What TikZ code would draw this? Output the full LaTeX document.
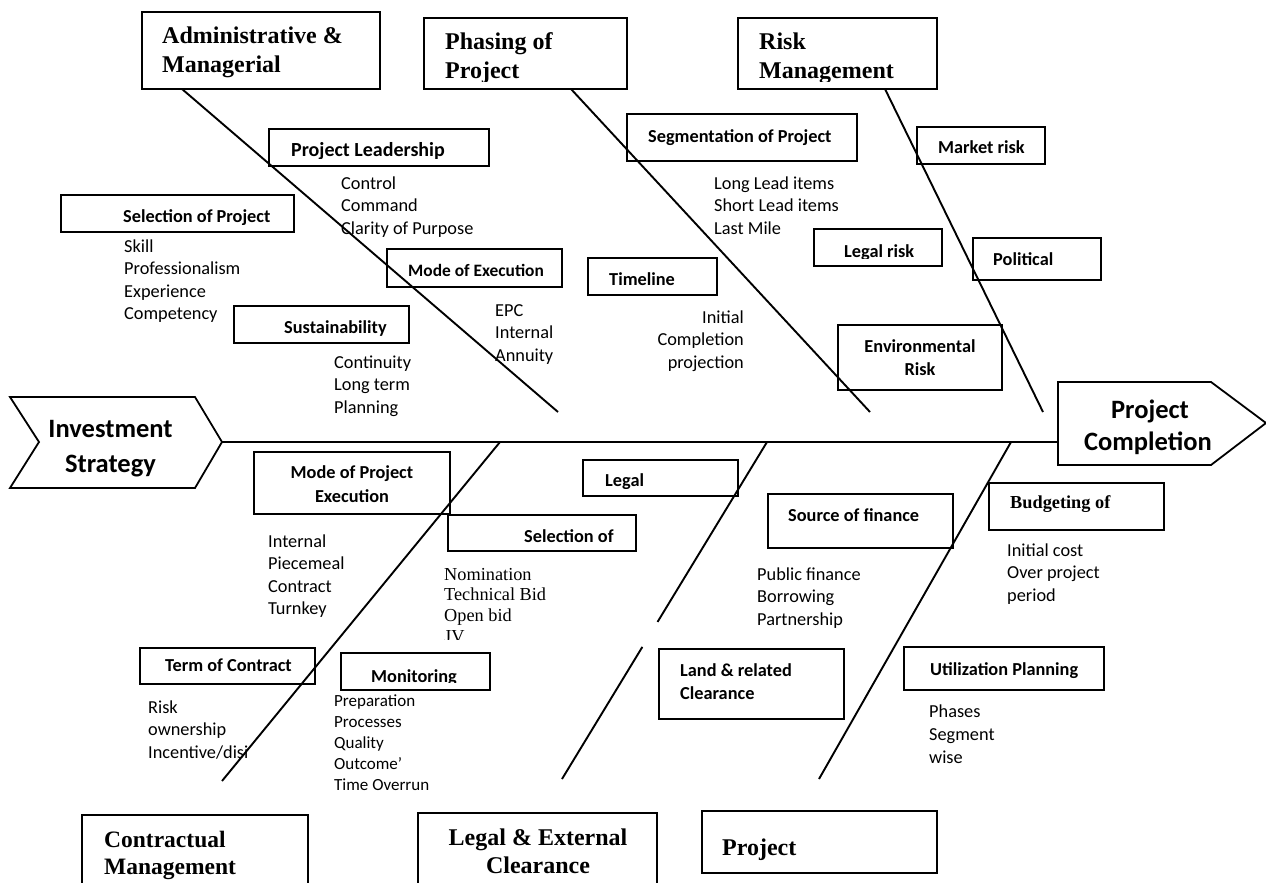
\documentclass[tikz,border=0pt]{standalone}
\usepackage{fontspec}
\newfontfamily\calibri{Carlito}
\newfontfamily\timesf{Liberation Serif}
\usetikzlibrary{fit,calc}
\tikzset{
 bx/.style={draw, line width=1.8pt, inner sep=0pt, outer sep=0pt},
 bone/.style={line width=1.9pt, line cap=butt},
 ttl/.style={font=\timesf\bfseries\fontsize{24}{28}\selectfont, inner sep=0pt, anchor=base west},
 lab/.style={font=\calibri\bfseries\fontsize{18.3}{22}\selectfont, inner sep=0pt, anchor=base west},
 itm/.style={font=\calibri\fontsize{18.3}{22}\selectfont, inner sep=0pt, anchor=base west},
 itms/.style={font=\calibri\fontsize{17}{21}\selectfont, inner sep=0pt, anchor=base west},
 tim/.style={font=\timesf\fontsize{18.3}{21}\selectfont, inner sep=0pt, anchor=base west},
 big/.style={font=\calibri\bfseries\fontsize{26.5}{32}\selectfont, inner sep=0pt, anchor=base},
}
% box with clipped text: name, x1, y1, x2, y2, text nodes
\newcommand\cbox[6]{%
  \node[bx, fit={(#2,#3) (#4,#5)}] (#1) {};
  \begin{scope}
    \clip (#1.north west) rectangle ([yshift=8pt]#1.south east);
    #6
  \end{scope}}
\begin{document}
\begin{tikzpicture}[x=1pt,y=-1pt,line join=miter]
\useasboundingbox (0,0) rectangle (1266,883);

% ---------- top main boxes ----------
\cbox{adm}{142}{12}{380}{89}{%
  \node[ttl] (admt1) at (162,44) {Administrative \&};
  \node[ttl] (admt2) at (162,72) {Managerial};}
\cbox{pha}{424}{18}{627}{89}{%
  \node[ttl] (phat1) at (445,50) {Phasing of};
  \node[ttl] (phat2) at (445,78) {Project};}
\cbox{rsk}{738}{18}{937}{89}{%
  \node[ttl] (rskt1) at (759,50) {Risk};
  \node[ttl] (rskt2) at (759,78) {Management};}

% ---------- top sub boxes ----------
\cbox{plead}{269}{129}{489}{166}{\node[lab,font=\calibri\bfseries\fontsize{20}{24}\selectfont] (pleadt) at (291,156) {Project Leadership};}
\cbox{selp}{61}{195}{294}{232}{\node[lab] (selpt) at (123,222) {Selection of Project};}
\cbox{modex}{387}{249}{562}{287}{\node[lab,font=\calibri\bfseries\fontsize{17.4}{21}\selectfont] (modext) at (408,276) {Mode of Execution};}
\cbox{sust}{234}{306}{409}{343}{\node[lab] (sustt) at (284,333) {Sustainability};}
\cbox{segm}{627}{114}{857}{161}{\node[lab] (segmt) at (648,142) {Segmentation of Project};}
\cbox{tml}{588}{258}{717}{295}{\node[lab] (tmlt) at (609,285) {Timeline};}
\cbox{mkt}{917}{127}{1045}{164}{\node[lab] (mktt) at (938,153) {Market risk};}
\cbox{lgr}{814}{229}{942}{266}{\node[lab] (lgrt) at (844,257) {Legal risk};}
\cbox{pol}{973}{238}{1101}{280}{\node[lab] (polt) at (993,265) {Political};}
\cbox{env}{838}{325}{1002}{390}{%
  \node[lab,anchor=base] (envt1) at (920,352) {Environmental};
  \node[lab,anchor=base] (envt2) at (920,375) {Risk};}

% ---------- top lists ----------
\node[itm] (c1) at (341,189) {Control};
\node[itm] (c2) at (341,211.5) {Command};
\node[itm] (c3) at (341,234) {Clarity of Purpose};
\node[itm] (s1) at (124,252) {Skill};
\node[itm] (s2) at (124,274.6) {Professionalism};
\node[itm] (s3) at (124,297.2) {Experience};
\node[itm] (s4) at (124,319.8) {Competency};
\node[itm] (e1) at (495,316) {EPC};
\node[itm] (e2) at (495,338.5) {Internal};
\node[itm] (e3) at (495,361) {Annuity};
\node[itm] (u1) at (334,368) {Continuity};
\node[itm] (u2) at (334,390.5) {Long term};
\node[itm] (u3) at (334,413) {Planning};
\node[itm] (l1) at (714,189) {Long Lead items};
\node[itm] (l2) at (714,211.5) {Short Lead items};
\node[itm] (l3) at (714,234) {Last Mile};
\node[itm,anchor=base east] (t1) at (744,323) {Initial};
\node[itm,anchor=base east] (t2) at (744,345.5) {Completion};
\node[itm,anchor=base east] (t3) at (744,368) {projection};

% ---------- head and tail ----------
\draw[bx] (10,397) -- (195,397) -- (222,442) -- (195,488) -- (10,488) -- (39,442) -- cycle;
\coordinate (invtip) at (222,442);
\node[big] (inv1) at (110.5,437) {Investment};
\node[big] (inv2) at (110.5,472) {Strategy};
\draw[bx] (1058,382) -- (1211,382) -- (1266,423) -- (1211,465) -- (1058,465) -- cycle;
\coordinate (pcleft) at (1058,442);
\node[big] (pc1) at (1150,418) {Project};
\node[big] (pc2) at (1148,450) {Completion};

% ---------- bottom sub boxes ----------
\cbox{mpe}{254}{452}{450}{514}{%
  \node[lab,anchor=base] (mpet1) at (352,478) {Mode of Project};
  \node[lab,anchor=base] (mpet2) at (352,502) {Execution};}
\cbox{lgl}{583}{460}{738}{496}{\node[lab] (lglt) at (605,486) {Legal};}
\cbox{selo}{448}{515}{636}{551}{\node[lab] (selot) at (524,542) {Selection of};}
\cbox{sof}{768}{494}{953}{548}{\node[lab] (soft) at (788,521) {Source of finance};}
\cbox{bud}{989}{483}{1164}{530}{\node[lab,font=\timesf\bfseries\fontsize{18.3}{22}\selectfont] (budt) at (1010,508) {Budgeting of};}
\cbox{term}{140}{648}{315}{684}{\node[lab] (termt) at (165,671) {Term of Contract};}
\cbox{mon}{341}{653}{490}{690}{\node[lab] (mont) at (371,682) {Monitoring};}
\cbox{land}{659}{649}{844}{719}{%
  \node[lab] (landt1) at (680,676) {Land \& related};
  \node[lab] (landt2) at (680,699) {Clearance};}
\cbox{util}{904}{647}{1104}{690}{\node[lab] (utilt) at (930,675) {Utilization Planning};}

% ---------- bottom lists ----------
\node[itm] (i1) at (268,547) {Internal};
\node[itm] (i2) at (268,569.5) {Piecemeal};
\node[itm] (i3) at (268,592) {Contract};
\node[itm] (i4) at (268,614.5) {Turnkey};
\begin{scope}
  \clip (430,560) rectangle (640,639);
  \node[tim] (n1) at (444,580) {Nomination};
  \node[tim] (n2) at (444,600.7) {Technical Bid};
  \node[tim] (n3) at (444,621.4) {Open bid};
  \node[tim] (n4) at (444,642) {JV};
\end{scope}
\node[itm] (f1) at (757,580) {Public finance};
\node[itm] (f2) at (757,602.5) {Borrowing};
\node[itm] (f3) at (757,625) {Partnership};
\node[itm] (b1) at (1007,556) {Initial cost};
\node[itm] (b2) at (1007,578.5) {Over project};
\node[itm] (b3) at (1007,601) {period};
\node[itm] (r1) at (148,713) {Risk};
\node[itm] (r2) at (148,735.5) {ownership};
\node[itm] (r3) at (148,758) {Incentive/disi};
\node[itms] (m1) at (334,706) {Preparation};
\node[itms] (m2) at (334,727) {Processes};
\node[itms] (m3) at (334,748) {Quality};
\node[itms] (m4) at (334,769) {Outcome’};
\node[itms] (m5) at (334,790) {Time Overrun};
\node[itm] (p1) at (929,717) {Phases};
\node[itm] (p2) at (929,740) {Segment};
\node[itm] (p3) at (929,763) {wise};

% ---------- bottom main boxes ----------
\cbox{con}{82}{815}{308}{905}{%
  \node[ttl,font=\timesf\bfseries\fontsize{23.5}{27}\selectfont] (cont1) at (104,847) {Contractual};
  \node[ttl,font=\timesf\bfseries\fontsize{23.5}{27}\selectfont] (cont2) at (104,874) {Management};}
\cbox{lex}{418}{813}{657}{905}{%
  \node[ttl,anchor=base] (lext1) at (538,845) {Legal \& External};
  \node[ttl,anchor=base] (lext2) at (538,873) {Clearance};}
\cbox{prj}{702}{811}{937}{873}{\node[ttl] (prjt) at (722,855) {Project};}

% ---------- bones ----------
\draw[bone] (invtip) -- (pcleft);
\coordinate (A1) at (182,89);  \coordinate (A2) at (558,412);
\coordinate (P1) at (571,89);  \coordinate (P2) at (870,412);
\coordinate (R1) at (885,89);  \coordinate (R2) at (1043,412);
\draw[bone] (A1) -- (A2);
\draw[bone] (P1) -- (P2);
\draw[bone] (R1) -- (R2);
\coordinate (C1) at (500,442); \coordinate (C2) at (222,781);
\coordinate (L1) at (767,442); \coordinate (L2) at (562,779);
\coordinate (J1) at (1011,442); \coordinate (J2) at (819,779);
\draw[bone] (C1) -- (C2);
\draw[bone] (L1) -- ($(L1)!0.534!(L2)$);
\draw[bone] ($(L1)!0.608!(L2)$) -- (L2);
\draw[bone] (J1) -- (J2);
\end{tikzpicture}
\end{document}
